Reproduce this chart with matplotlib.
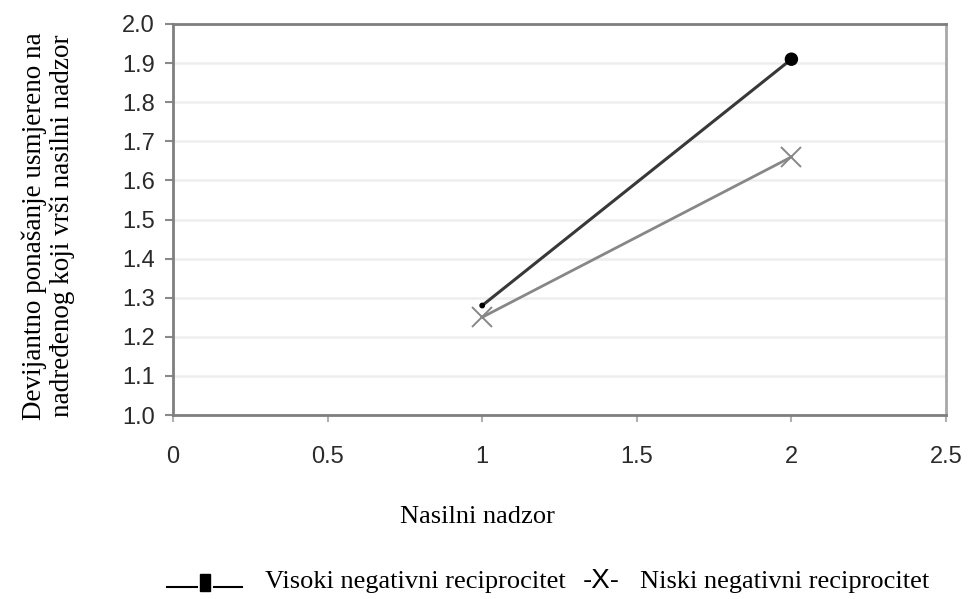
import matplotlib
matplotlib.use("Agg")
import matplotlib.pyplot as plt
from matplotlib.lines import Line2D
from matplotlib.patches import Rectangle

# podaci ocitani s grafa
nasilni_nadzor = [1, 2]
visoki_nr = [1.28, 1.91]
niski_nr = [1.25, 1.66]

x_ticks = [0, 0.5, 1, 1.5, 2, 2.5]
x_tick_labels = ["0", "0.5", "1", "1.5", "2", "2.5"]
y_ticks = [1.0, 1.1, 1.2, 1.3, 1.4, 1.5, 1.6, 1.7, 1.8, 1.9, 2.0]
y_tick_labels = ["%.1f" % v for v in y_ticks]

serif = ["Liberation Serif", "DejaVu Serif"]
sans = ["Liberation Sans", "DejaVu Sans"]

W, H = 968, 599
fig = plt.figure(figsize=(W / 100, H / 100), dpi=100)
ax = fig.add_axes([173 / W, 1 - 415 / H, (946 - 173) / W, (415 - 24) / H])

ax.set_xlim(0, 2.5)
ax.set_ylim(1.0, 2.0)
ax.set_yticks(y_ticks)
ax.set_yticklabels(y_tick_labels)
ax.set_xticks(x_ticks)
ax.set_xticklabels(x_tick_labels)

ax.grid(axis="y", color="#eeeeee", linewidth=1.8)
ax.set_axisbelow(True)

# linije
ax.plot(nasilni_nadzor, niski_nr, color="#878787", linewidth=2, zorder=3)
ax.plot(nasilni_nadzor, niski_nr, linestyle="none", marker="x", markersize=14,
        markeredgewidth=1.4, color="#878787", zorder=4)
ax.plot(nasilni_nadzor, visoki_nr, color="#383838", linewidth=2.2, zorder=5)
ax.scatter(nasilni_nadzor, visoki_nr, s=[10, 75], color="black", zorder=6)

for side in ["top", "left", "bottom"]:
    ax.spines[side].set_color("#7f7f7f")
    ax.spines[side].set_linewidth(2)
ax.spines["right"].set_color("#a8a8a8")
ax.spines["right"].set_linewidth(2)

ax.tick_params(axis="y", direction="out", length=6, width=1.5, color="#8a8a8a",
               pad=7, labelsize=17, labelcolor="#2a2a2a")
ax.tick_params(axis="x", direction="out", length=5, width=1.5, color="#b0b0b0",
               pad=17, labelsize=17, labelcolor="#2a2a2a")
for lbl in ax.get_xticklabels() + ax.get_yticklabels():
    lbl.set_family(sans)

# natpisi osi
fig.text(48 / W, 1 - 226 / H,
         "Devijantno ponašanje usmjereno na\nnadređenog koji vrši nasilni nadzor",
         rotation=90, ha="center", va="center", fontsize=19.5, family=serif,
         linespacing=1.15)
fig.text(400 / W, 1 - 523 / H, "Nasilni nadzor", ha="left", va="baseline",
         fontsize=19, family=serif)

# legenda
leg_y = 1 - 587 / H
fig.add_artist(Line2D([167 / W, 197 / W], [leg_y, leg_y], color="black",
                      linewidth=1.5, transform=fig.transFigure))
fig.add_artist(Line2D([214 / W, 242 / W], [leg_y, leg_y], color="black",
                      linewidth=1.5, transform=fig.transFigure))
fig.add_artist(Rectangle((200 / W, 1 - 591 / H), 10 / W, 17 / H,
                         color="black", transform=fig.transFigure))
fig.text(265 / W, 1 - 588 / H, "Visoki negativni reciprocitet", ha="left",
         va="baseline", fontsize=19, family=serif)
fig.text(583 / W, 1 - 588 / H, "-X-", ha="left", va="baseline",
         fontsize=20, family=sans)
fig.text(640 / W, 1 - 588 / H, "Niski negativni reciprocitet", ha="left",
         va="baseline", fontsize=19, family=serif)

fig.savefig("out.png", dpi=100)
